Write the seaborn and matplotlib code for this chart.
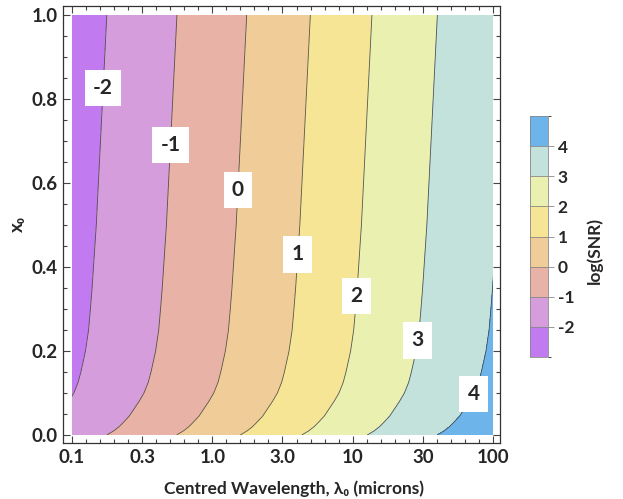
import numpy as np
import matplotlib
matplotlib.use("Agg")
import matplotlib.pyplot as plt
from matplotlib.colors import ListedColormap, BoundaryNorm
from matplotlib.ticker import FixedLocator, FixedFormatter, NullFormatter, FormatStrFormatter
import seaborn as sns

# log(SNR) contour levels and the wavelength (microns) where each meets x0 = 0
snr_levels = [-3, -2, -1, 0, 1, 2, 3, 4, 5]
lam_at_x0_zero = [0.018, 0.056, 0.177, 0.556, 1.58, 4.34, 12.7, 40.0, 126.0]

# how far (decades of wavelength) the contours move right as x0 grows
x0_rows = [0, 0.01, 0.02, 0.03, 0.045, 0.06, 0.08, 0.1, 0.125, 0.15, 0.2,
           0.25, 0.3, 0.35, 0.4, 0.5, 0.6, 0.7, 0.8, 0.9, 1.0]
shift_dex = [0, 0.05, 0.088, 0.118, 0.16, 0.19, 0.23, 0.265, 0.295, 0.315, 0.348,
             0.37, 0.383, 0.395, 0.405, 0.425, 0.44, 0.455, 0.47, 0.485, 0.5]

band_colors = ["#c17af0", "#d69ddd", "#e8b2a6", "#f0cc98",
               "#f5e594", "#eaf0b0", "#c4e2dc", "#6cb4ea"]
xtick_labels = ["0.1", "0.3", "1.0", "3.0", "10", "30", "100"]

# where the contour labels sit (wavelength, x0)
label_pos = [(0.172, 0.826), (0.516, 0.69), (1.50, 0.583), (4.08, 0.43),
             (11.7, 0.33), (27.4, 0.226), (65.3, 0.102)]

sns.set_style("ticks")
plt.rcParams["font.family"] = ["Lato", "DejaVu Sans"]
plt.rcParams["font.weight"] = "bold"
plt.rcParams["axes.labelweight"] = "bold"
plt.rcParams["axes.unicode_minus"] = False
plt.rcParams["contour.negative_linestyle"] = "solid"

# grid: each row is the x0 = 0 profile pushed right by shift_dex
lam = np.array(lam_at_x0_zero)
X = np.outer(10 ** np.array(shift_dex), lam)
Y = np.repeat(np.array(x0_rows)[:, None], len(lam), axis=1)
Z = np.tile(np.array(snr_levels, dtype=float), (len(x0_rows), 1))

fig = plt.figure(figsize=(6.23, 4.99), dpi=100)
ax = fig.add_axes([63 / 623, 1 - 443 / 499, 437 / 623, 437 / 499])
ax.set_xscale("log")

cmap = ListedColormap(sns.color_palette(band_colors))
norm = BoundaryNorm(snr_levels, cmap.N)
cf = ax.contourf(X, Y, Z, levels=snr_levels, cmap=cmap, norm=norm)
cl = ax.contour(X, Y, Z, levels=snr_levels[1:-1], colors="#3a3a3a",
                linewidths=0.6, linestyles="solid", alpha=0.85)

# only show the data rectangle, Mathematica-style padding around it
clip = plt.Rectangle((0.1, 0), 99.9, 1, transform=ax.transData, fc="none", ec="none")
ax.add_patch(clip)
cf.set_clip_path(clip)
cl.set_clip_path(clip)

texts = ax.clabel(cl, fmt="%d", manual=label_pos, inline=False, fontsize=15, colors="black")
for t in texts:
    t.set_rotation(0)
    t.set_fontweight("bold")
    t.set_bbox(dict(boxstyle="square,pad=0.4", fc="white", ec="none"))

ax.set_xlim(10 ** -1.064, 10 ** 2.05)
ax.set_ylim(-0.019, 1.021)

ax.xaxis.set_major_locator(FixedLocator(10 ** np.arange(-1, 2.01, 0.5)))
ax.xaxis.set_major_formatter(FixedFormatter(xtick_labels))
ax.xaxis.set_minor_locator(FixedLocator(10 ** np.arange(-1, 2.01, 0.1)))
ax.xaxis.set_minor_formatter(NullFormatter())
ax.set_yticks(np.arange(0, 1.01, 0.2))
ax.set_yticks(np.arange(0, 1.01, 0.05), minor=True)
ax.yaxis.set_major_formatter(FormatStrFormatter("%.1f"))

ax.tick_params(which="both", direction="in", top=True, right=True,
               color="#444444", width=0.8)
ax.tick_params(which="major", length=5, labelsize=13.5, pad=4)
ax.tick_params(which="minor", length=2.8)
for s in ax.spines.values():
    s.set_color("#333333")
    s.set_linewidth(0.9)

ax.set_xlabel("Centred Wavelength, λ₀ (microns)", fontsize=12.5, fontweight="bold")
ax.xaxis.set_label_coords(0.528, -0.085)
ax.set_ylabel("x₀", fontsize=13.5, fontweight="bold", labelpad=4)

# colour legend
cax = fig.add_axes([530 / 623, 1 - 357 / 499, 18 / 623, 241 / 499])
cb = fig.colorbar(cf, cax=cax, ticks=snr_levels[1:-1], drawedges=True)
cb.outline.set_edgecolor("#888888")
cb.outline.set_linewidth(0.6)
cb.dividers.set_color("#888888")
cb.dividers.set_linewidth(0.6)
cax.tick_params(direction="out", length=4, width=0.6, color="#888888",
                labelsize=12.5, pad=3)
cax.yaxis.set_major_formatter(FormatStrFormatter("%d"))
fig.text(595 / 623, 1 - 251 / 499, "log(SNR)", rotation=90, ha="center",
         va="center", fontsize=12.5, fontweight="bold")

fig.savefig("out.png", dpi=100)
